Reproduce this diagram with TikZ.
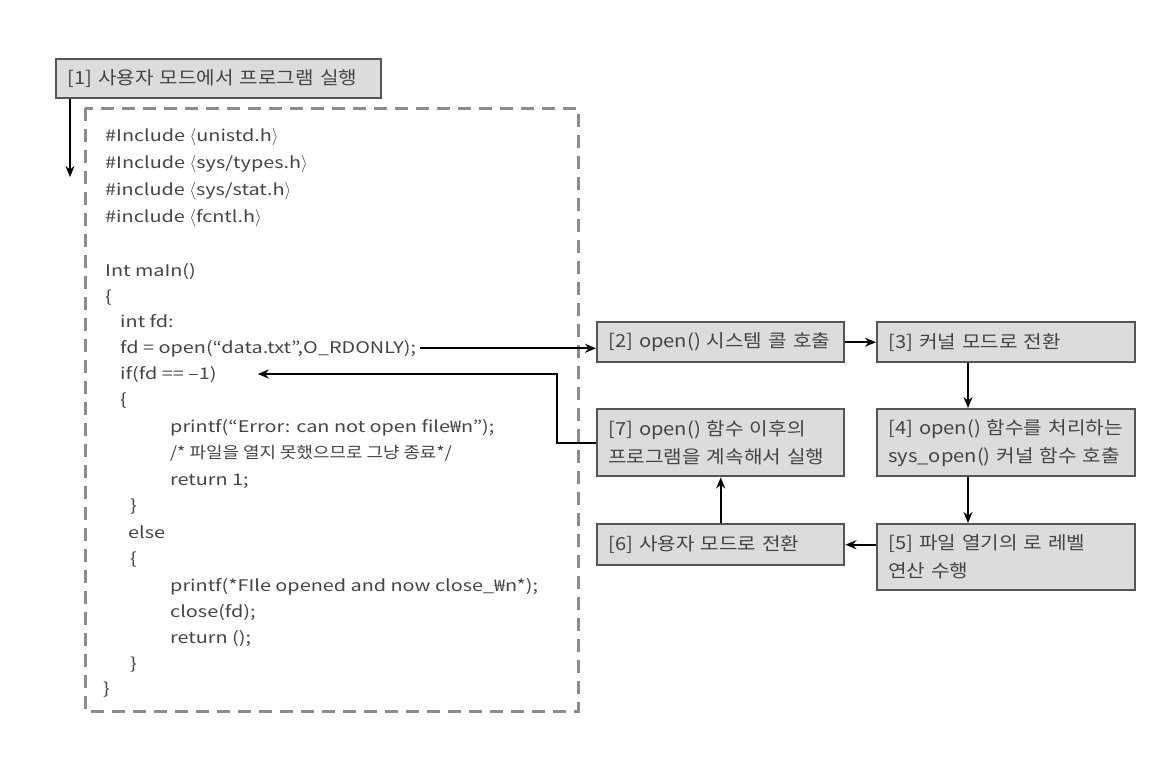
\documentclass[tikz,border=0pt]{standalone}
\usepackage{fontspec}
\setmainfont{Noto Sans CJK KR}[FakeStretch=1.12]
\newfontfamily\codefont{Noto Sans CJK KR}[FakeStretch=1.24]
\usetikzlibrary{arrows.meta}

\definecolor{boxfill}{HTML}{DCDCDC}
\definecolor{boxline}{HTML}{555555}
\definecolor{codegray}{HTML}{444444}
\definecolor{dashgray}{HTML}{8C8C8C}

\newcommand{\lang}{\(\langle\)}
\newcommand{\rang}{\(\rangle\)}

\begin{document}
\begin{tikzpicture}[x=1pt, y=-1pt,
    stepbox/.style={draw=boxline, fill=boxfill, line width=2.4pt, anchor=north west,
      inner xsep=11pt, inner ysep=0pt, align=left, text=codegray,
      font=\fontsize{18}{28}\selectfont},
    codeline/.style={anchor=base west, inner sep=4pt, text=codegray,
      font=\codefont\fontsize{16}{20}\selectfont},
    flow/.style={line width=1.8pt, -{Stealth[length=11pt, width=9pt]}},
  ]
  \useasboundingbox (0,0) rectangle (1174,768);

  % user program
  \draw[dashgray, line width=3pt, dash pattern=on 13pt off 8pt] (85,108) rectangle (578,711);
  \node[codeline] (c1)  at (101,141) {\#Include \lang unistd.h\rang};
  \node[codeline] (c2)  at (101,168) {\#Include \lang sys/types.h\rang};
  \node[codeline] (c3)  at (101,195) {\#include \lang sys/stat.h\rang};
  \node[codeline] (c4)  at (101,222) {\#include \lang fcntl.h\rang};
  \node[codeline] (c5)  at (101,276) {Int maIn()};
  \node[codeline] (c6)  at (101,302) {\{};
  \node[codeline] (c7)  at (116,327) {int fd:};
  \node[codeline] (c8)  at (116,353) {fd = open(“data.txt”,O\_RDONLY);};
  \node[codeline] (c9)  at (116,379) {if(fd == –1)};
  \node[codeline] (c10) at (116,405) {\{};
  \node[codeline] (c11) at (166,432) {printf(“Error: can not open file₩n”);};
  \node[codeline, font=\rmfamily\fontsize{16}{20}\selectfont] (c12) at (166,458) {/* 파일을 열지 못했으므로 그냥 종료*/};
  \node[codeline] (c13) at (166,485) {return 1;};
  \node[codeline] (c14) at (126,511) {\}};
  \node[codeline] (c15) at (124,538) {else};
  \node[codeline] (c16) at (126,564) {\{};
  \node[codeline] (c17) at (166,591) {printf(*FIle opened and now close\_₩n*);};
  \node[codeline] (c18) at (166,617) {close(fd);};
  \node[codeline] (c19) at (166,643) {return ();};
  \node[codeline] (c20) at (126,669) {\}};
  \node[codeline] (c21) at (99,694)  {\}};

  % steps
  \node[stepbox, text width=303pt, minimum height=39pt] (b1) at (55,58)   {[1] 사용자 모드에서 프로그램 실행};
  \node[stepbox, text width=225pt, minimum height=40pt] (b2) at (596,321) {[2] open() 시스템 콜 호출};
  \node[stepbox, text width=236pt, minimum height=40pt] (b3) at (876,321) {[3] 커널 모드로 전환};
  \node[stepbox, text width=236pt, minimum height=67pt] (b4) at (876,408) {[4] open() 함수를 처리하는\\sys\_open() 커널 함수 호출};
  \node[stepbox, text width=236pt, minimum height=66pt] (b5) at (876,523) {[5] 파일 열기의 로 레벨\\연산 수행};
  \node[stepbox, text width=225pt, minimum height=41pt] (b6) at (596,523) {[6] 사용자 모드로 전환};
  \node[stepbox, text width=225pt, minimum height=67pt] (b7) at (596,408) {[7] open() 함수 이후의\\프로그램을 계속해서 실행};

  \coordinate (entry) at (70,177);
  \coordinate (down)  at (968,0);
  \coordinate (back)  at (557,0);

  \draw[flow] (b1.south -| entry) -- (entry);
  \draw[flow] (c8.east) -- (c8.east -| b2.west);
  \draw[flow] (b2) -- (b3);
  \draw[flow] (b3.south -| down) -- (b4.north -| down);
  \draw[flow] (b4.south -| down) -- (b5.north -| down);
  \draw[flow] (b6.east -| b5.west) -- (b6.east);
  \draw[flow] (b6) -- (b7);
  \draw[flow] (b7.west) -- (b7.west -| back) |- ([xshift=37pt]c9.east);
\end{tikzpicture}
\end{document}
